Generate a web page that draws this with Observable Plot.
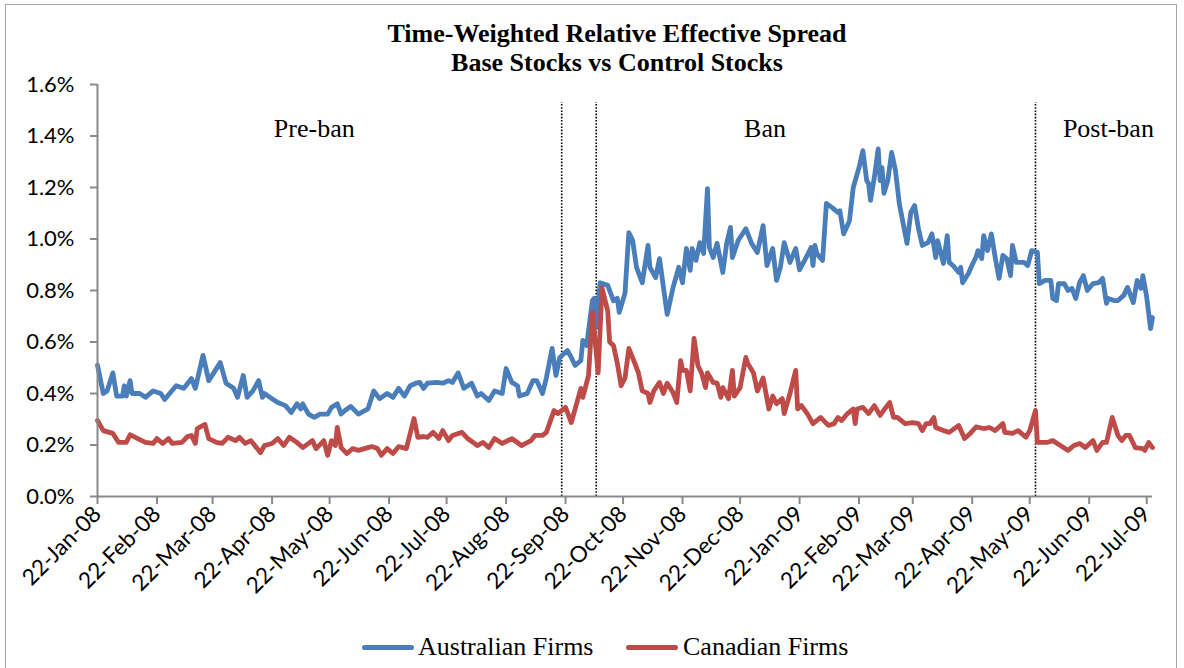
<!DOCTYPE html>
<html>
<head>
<meta charset="utf-8">
<script src="https://cdn.jsdelivr.net/npm/d3@7"></script>
<script src="https://cdn.jsdelivr.net/npm/@observablehq/plot@0.6"></script>
<style>
  html, body { margin: 0; padding: 0; background: #fff; }
  #wrap { position: relative; width: 1184px; height: 668px; overflow: hidden; background: #fff; }
  #border { position: absolute; left: 5px; top: 4px; width: 1172px; height: 680px; border: 1px solid #a6a6a6; box-sizing: border-box; }
  #title { position: absolute; left: 0; width: 1234px; top: 19px; text-align: center; font-family: "Liberation Serif", "Times New Roman", serif; font-weight: bold; font-size: 26px; line-height: 29px; color: #000; }
  #chart { position: absolute; left: 0; top: 0; }
  .leg { position: absolute; top: 631px; font-family: "Liberation Serif", "Times New Roman", serif; font-size: 26px; line-height: 32px; color: #000; white-space: nowrap; }
  .sw { position: absolute; top: 645px; height: 5px; border-radius: 2.5px; }
</style>
</head>
<body>
<div id="wrap">
  <div id="border"></div>
  <div id="chart"></div>
  <div id="title">Time-Weighted Relative Effective Spread<br>Base Stocks vs Control Stocks</div>
  <div class="sw" style="left:362px;width:52px;background:#4A7EBB"></div>
  <div class="leg" style="left:418px">Australian Firms</div>
  <div class="sw" style="left:626px;width:52px;background:#BE4B48"></div>
  <div class="leg" style="left:683px">Canadian Firms</div>
</div>
<script>
// ---- Data (values in percent) ----
const ausDates = [
"2008-01-22","2008-01-25","2008-01-27","2008-01-30","2008-02-01","2008-02-04","2008-02-05","2008-02-06","2008-02-08","2008-02-09",
"2008-02-13","2008-02-16","2008-02-20","2008-02-24","2008-02-26","2008-03-03","2008-03-07","2008-03-11","2008-03-13","2008-03-17",
"2008-03-20","2008-03-26","2008-03-29","2008-04-02","2008-04-04","2008-04-07","2008-04-09","2008-04-12","2008-04-15","2008-04-17",
"2008-04-18","2008-04-22","2008-04-25","2008-04-29","2008-05-02","2008-05-05","2008-05-07","2008-05-08","2008-05-11","2008-05-14",
"2008-05-17","2008-05-21","2008-05-23","2008-05-26","2008-05-28","2008-05-30","2008-06-02","2008-06-06","2008-06-11","2008-06-14",
"2008-06-17","2008-06-21","2008-06-24","2008-06-27","2008-06-30","2008-07-03","2008-07-06","2008-07-08","2008-07-10","2008-07-12",
"2008-07-17","2008-07-20","2008-07-23","2008-07-25","2008-07-28","2008-07-31","2008-08-04","2008-08-07","2008-08-09","2008-08-13",
"2008-08-16","2008-08-20","2008-08-22","2008-08-25","2008-08-28","2008-08-29","2008-09-02","2008-09-05","2008-09-07","2008-09-10",
"2008-09-12","2008-09-15","2008-09-17","2008-09-19","2008-09-23","2008-09-25","2008-09-27","2008-09-30","2008-10-01","2008-10-03",
"2008-10-06","2008-10-07","2008-10-08","2008-10-10","2008-10-14","2008-10-17","2008-10-19","2008-10-20","2008-10-23","2008-10-25",
"2008-10-27","2008-10-29","2008-11-01","2008-11-04","2008-11-05","2008-11-08","2008-11-10","2008-11-13","2008-11-14","2008-11-17",
"2008-11-20","2008-11-22","2008-11-24","2008-11-26","2008-11-27","2008-11-29","2008-12-01","2008-12-03","2008-12-05","2008-12-06",
"2008-12-08","2008-12-10","2008-12-13","2008-12-15","2008-12-17","2008-12-18","2008-12-21","2008-12-25","2008-12-28","2008-12-31",
"2009-01-03","2009-01-05","2009-01-08","2009-01-10","2009-01-12","2009-01-14","2009-01-17","2009-01-20","2009-01-22","2009-01-26",
"2009-01-28","2009-01-29","2009-01-30","2009-01-31","2009-02-03","2009-02-05","2009-02-08","2009-02-11","2009-02-12","2009-02-14",
"2009-02-17","2009-02-19","2009-02-22","2009-02-24","2009-02-26","2009-02-27","2009-02-28","2009-03-02","2009-03-04","2009-03-05",
"2009-03-06","2009-03-07","2009-03-09","2009-03-11","2009-03-13","2009-03-15","2009-03-19","2009-03-21","2009-03-23","2009-03-25",
"2009-03-27","2009-03-30","2009-04-01","2009-04-03","2009-04-04","2009-04-07","2009-04-09","2009-04-10","2009-04-12","2009-04-15",
"2009-04-16","2009-04-17","2009-04-20","2009-04-22","2009-04-24","2009-04-25","2009-04-27","2009-04-28","2009-04-30","2009-05-02",
"2009-05-04","2009-05-06","2009-05-08","2009-05-10","2009-05-12","2009-05-13","2009-05-15","2009-05-19","2009-05-21","2009-05-23",
"2009-05-26","2009-05-27","2009-05-30","2009-06-02","2009-06-03","2009-06-05","2009-06-06","2009-06-09","2009-06-11","2009-06-13",
"2009-06-15","2009-06-17","2009-06-19","2009-06-21","2009-06-24","2009-06-27","2009-06-29","2009-07-01","2009-07-02","2009-07-05",
"2009-07-07","2009-07-10","2009-07-12","2009-07-15","2009-07-17","2009-07-19","2009-07-20","2009-07-22","2009-07-24","2009-07-25"
];
const ausValues = [
0.51,0.40,0.41,0.48,0.39,0.39,0.43,0.39,0.45,0.40,
0.40,0.385,0.41,0.40,0.377,0.43,0.42,0.458,0.42,0.548,
0.45,0.52,0.44,0.42,0.385,0.47,0.385,0.41,0.45,0.385,
0.40,0.38,0.365,0.353,0.326,0.36,0.34,0.36,0.32,0.307,
0.32,0.32,0.346,0.36,0.32,0.334,0.35,0.32,0.34,0.41,
0.38,0.40,0.385,0.42,0.39,0.43,0.44,0.443,0.42,0.44,
0.443,0.44,0.45,0.443,0.48,0.42,0.44,0.39,0.40,0.373,
0.41,0.40,0.497,0.443,0.43,0.39,0.40,0.45,0.45,0.40,
0.46,0.575,0.47,0.54,0.567,0.54,0.509,0.528,0.606,0.586,
0.76,0.77,0.656,0.83,0.82,0.76,0.77,0.715,0.79,1.025,
0.994,0.89,0.83,0.975,0.89,0.85,0.924,0.76,0.707,0.81,
0.89,0.83,0.963,0.878,0.963,0.917,0.986,0.944,1.196,0.967,
0.928,0.983,0.87,0.983,1.045,0.928,0.994,1.04,0.983,0.948,
1.052,0.897,0.963,0.839,0.89,0.986,0.909,0.963,0.88,0.936,
0.967,0.897,0.975,0.944,0.917,1.138,1.122,1.103,1.11,1.02,
1.07,1.2,1.277,1.343,1.227,1.215,1.15,1.24,1.35,1.227,
1.277,1.177,1.227,1.336,1.266,1.138,0.983,1.103,1.13,1.04,
0.975,0.986,1.02,0.928,0.994,0.905,1.013,0.909,0.897,0.87,
0.89,0.83,0.866,0.90,0.93,0.955,0.924,1.013,0.955,1.02,
0.928,0.847,0.936,0.924,0.858,0.975,0.909,0.909,0.897,0.955,
0.948,0.827,0.839,0.839,0.769,0.761,0.827,0.827,0.80,0.808,
0.769,0.831,0.858,0.80,0.827,0.831,0.847,0.75,0.769,0.761,
0.761,0.781,0.812,0.753,0.839,0.808,0.858,0.773,0.652,0.695
];
const canDates = [
"2008-01-22","2008-01-25","2008-01-30","2008-02-02","2008-02-06","2008-02-08","2008-02-12","2008-02-16","2008-02-20","2008-02-22",
"2008-02-25","2008-02-28","2008-03-01","2008-03-06","2008-03-09","2008-03-11","2008-03-13","2008-03-14","2008-03-18","2008-03-20",
"2008-03-24","2008-03-27","2008-03-30","2008-04-03","2008-04-05","2008-04-08","2008-04-11","2008-04-13","2008-04-16","2008-04-18",
"2008-04-22","2008-04-25","2008-04-28","2008-05-01","2008-05-05","2008-05-08","2008-05-13","2008-05-15","2008-05-19","2008-05-21",
"2008-05-23","2008-05-25","2008-05-26","2008-05-28","2008-05-31","2008-06-03","2008-06-06","2008-06-11","2008-06-13","2008-06-16",
"2008-06-18","2008-06-21","2008-06-24","2008-06-27","2008-07-01","2008-07-05","2008-07-07","2008-07-10","2008-07-12","2008-07-15",
"2008-07-18","2008-07-20","2008-07-23","2008-07-25","2008-07-30","2008-08-02","2008-08-07","2008-08-10","2008-08-13","2008-08-16",
"2008-08-20","2008-08-25","2008-08-30","2008-09-04","2008-09-06","2008-09-10","2008-09-12","2008-09-16","2008-09-18","2008-09-22",
"2008-09-25","2008-09-30","2008-10-01","2008-10-04","2008-10-06","2008-10-07","2008-10-09","2008-10-11","2008-10-14","2008-10-15",
"2008-10-17","2008-10-19","2008-10-21","2008-10-23","2008-10-25","2008-10-28","2008-10-30","2008-11-01","2008-11-04","2008-11-05",
"2008-11-07","2008-11-10","2008-11-12","2008-11-14","2008-11-17","2008-11-19","2008-11-21","2008-11-22","2008-11-24","2008-11-26",
"2008-11-28","2008-11-30","2008-12-02","2008-12-04","2008-12-05","2008-12-08","2008-12-10","2008-12-12","2008-12-13","2008-12-16",
"2008-12-18","2008-12-19","2008-12-22","2008-12-25","2008-12-26","2008-12-29","2008-12-31","2009-01-03","2009-01-06","2009-01-08",
"2009-01-10","2009-01-13","2009-01-14","2009-01-17","2009-01-20","2009-01-21","2009-01-23","2009-01-26","2009-01-29","2009-02-02",
"2009-02-06","2009-02-09","2009-02-11","2009-02-13","2009-02-16","2009-02-19","2009-02-20","2009-02-21","2009-02-24","2009-02-27",
"2009-03-02","2009-03-05","2009-03-08","2009-03-10","2009-03-12","2009-03-14","2009-03-18","2009-03-22","2009-03-25","2009-03-27",
"2009-03-29","2009-03-31","2009-04-02","2009-04-03","2009-04-07","2009-04-10","2009-04-15","2009-04-18","2009-04-21","2009-04-24",
"2009-04-28","2009-05-01","2009-05-04","2009-05-08","2009-05-09","2009-05-13","2009-05-16","2009-05-20","2009-05-22","2009-05-25",
"2009-05-26","2009-05-31","2009-06-03","2009-06-07","2009-06-11","2009-06-14","2009-06-17","2009-06-20","2009-06-24","2009-06-26",
"2009-06-29","2009-07-01","2009-07-04","2009-07-07","2009-07-09","2009-07-11","2009-07-13","2009-07-16","2009-07-20","2009-07-21",
"2009-07-23","2009-07-25"
];
const canValues = [
0.295,0.256,0.245,0.21,0.21,0.24,0.225,0.21,0.206,0.225,
0.206,0.225,0.206,0.21,0.233,0.237,0.206,0.264,0.28,0.225,
0.21,0.206,0.23,0.217,0.23,0.206,0.217,0.198,0.17,0.198,
0.206,0.225,0.198,0.23,0.21,0.19,0.217,0.186,0.217,0.16,
0.217,0.198,0.268,0.19,0.167,0.186,0.179,0.19,0.194,0.186,
0.16,0.186,0.167,0.194,0.186,0.303,0.23,0.233,0.23,0.249,
0.225,0.256,0.217,0.237,0.249,0.225,0.198,0.21,0.19,0.225,
0.206,0.225,0.198,0.217,0.237,0.237,0.249,0.334,0.322,0.346,
0.287,0.42,0.385,0.47,0.715,0.637,0.48,0.81,0.72,0.60,
0.586,0.517,0.43,0.46,0.575,0.52,0.48,0.41,0.40,0.365,
0.41,0.443,0.40,0.44,0.404,0.365,0.528,0.49,0.49,0.41,
0.614,0.509,0.478,0.423,0.48,0.443,0.44,0.385,0.423,0.38,
0.49,0.39,0.423,0.54,0.517,0.48,0.41,0.46,0.34,0.39,
0.36,0.38,0.322,0.40,0.49,0.34,0.353,0.322,0.283,0.307,
0.276,0.283,0.307,0.295,0.322,0.34,0.283,0.34,0.346,0.322,
0.353,0.315,0.346,0.365,0.307,0.307,0.283,0.287,0.283,0.256,
0.283,0.283,0.307,0.268,0.256,0.249,0.276,0.225,0.245,0.27,
0.264,0.268,0.256,0.283,0.249,0.245,0.256,0.23,0.256,0.334,
0.21,0.21,0.217,0.198,0.179,0.198,0.206,0.19,0.217,0.179,
0.21,0.21,0.307,0.237,0.217,0.237,0.237,0.19,0.186,0.179,
0.21,0.19
];
const xTicks = ["2008-01-22","2008-02-22","2008-03-22","2008-04-22","2008-05-22","2008-06-22","2008-07-22","2008-08-22","2008-09-22",
  "2008-10-22","2008-11-22","2008-12-22","2009-01-22","2009-02-22","2009-03-22","2009-04-22","2009-05-22","2009-06-22","2009-07-22"];
const yTicks = [0, 0.2, 0.4, 0.6, 0.8, 1.0, 1.2, 1.4, 1.6];
const eventDates = ["2008-09-20", "2008-10-08", "2009-05-25"];
const periodLabels = [
  {label: "Pre-ban", date: "2008-05-14", value: 1.43},
  {label: "Ban", date: "2009-01-04", value: 1.43},
  {label: "Post-ban", date: "2009-07-02", value: 1.43}
];
const xDomain = ["2008-01-22", "2009-07-25"];

// ---- Build ----
const P = s => d3.utcParse("%Y-%m-%d")(s);
const aus = ausDates.map((d, i) => ({date: P(d), value: ausValues[i]}));
const can = canDates.map((d, i) => ({date: P(d), value: canValues[i]}));
const gray = "#898989";

const chart = Plot.plot({
  width: 1184,
  height: 625,
  marginLeft: 97,
  marginRight: 32,
  marginTop: 84,
  marginBottom: 129,
  style: {fontFamily: "Lato, 'Open Sans', sans-serif", fontSize: "22px", color: "#000", background: "transparent", overflow: "visible"},
  x: {type: "utc", domain: xDomain.map(P)},
  y: {domain: [0, 1.6]},
  marks: [
    Plot.ruleX(eventDates.map(P), {y1: 0, y2: 1.53, stroke: "#000", strokeWidth: 1.6, strokeDasharray: "1.6,1.6"}),
    Plot.lineY(aus, {x: "date", y: "value", stroke: "#4A7EBB", strokeWidth: 4.8, strokeLinejoin: "round", strokeLinecap: "round"}),
    Plot.lineY(can, {x: "date", y: "value", stroke: "#BE4B48", strokeWidth: 4.8, strokeLinejoin: "round", strokeLinecap: "round"}),
    Plot.text(periodLabels, {x: d => P(d.date), y: "value", text: "label", fontFamily: "'Liberation Serif', 'Times New Roman', serif", fontSize: 26, fill: "#000"}),
    Plot.ruleX([P(xDomain[0])], {stroke: gray, strokeWidth: 2}),
    Plot.ruleY([0], {stroke: gray, strokeWidth: 2}),
    Plot.axisY({ticks: yTicks, tickFormat: d => d.toFixed(1) + "%", tickSize: 7, tickPadding: 16, stroke: gray, strokeWidth: 2, label: null, fill: "#000", fontSize: 22}),
    Plot.axisX({ticks: xTicks.map(P), tickFormat: d3.utcFormat("%d-%b-%y"), tickSize: 8, tickPadding: 6, tickRotate: -45, stroke: gray, strokeWidth: 2, label: null, fill: "#000", fontSize: 22.5})
  ]
});
document.getElementById("chart").appendChild(chart);
</script>
</body>
</html>
